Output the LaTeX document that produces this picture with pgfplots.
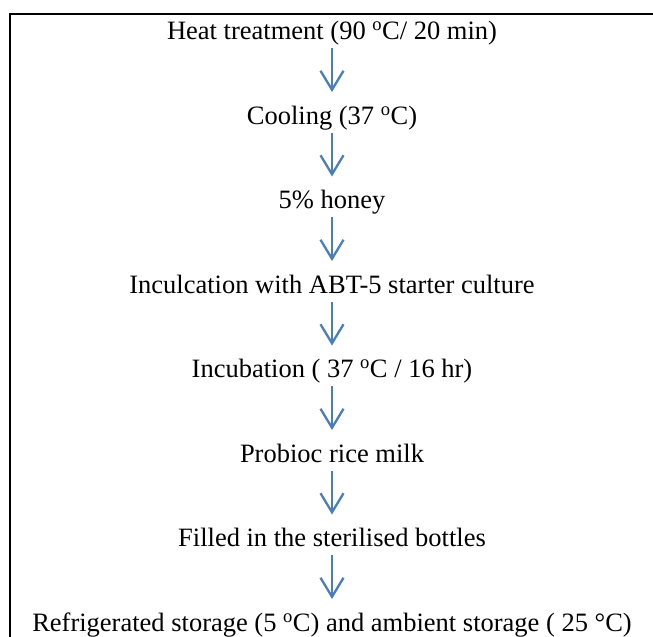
\documentclass[border=0pt]{standalone}
\usepackage{fontspec}
\setmainfont{Liberation Serif}
\usepackage{pgfplots}
\pgfplotsset{compat=1.18}
\usetikzlibrary{arrows.meta}
\definecolor{arrowblue}{HTML}{4A7EBB}
\begin{document}
\begin{tikzpicture}
\begin{axis}[
  width=653bp, height=637bp, scale only axis,
  xmin=0, xmax=653, ymin=0, ymax=637, y dir=reverse,
  axis lines=none, clip=true,
]
\addplot[draw=black, line width=2bp, no markers] coordinates {(10,700) (10,14) (700,14)};
\addplot[arrowblue, line width=2.3bp, no markers, -{Straight Barb[length=19bp,width=23bp]},
  quiver={u=0, v=\thisrow{v}}] table[x=x, y=y] {
x y v
332 48 44
332 132.5 44
332 217 44
332 301.5 44
332 386 44
332 470.5 44
332 555 44
};
\begin{scope}[every node/.style={anchor=base, inner sep=0pt, font=\fontsize{26.5bp}{30bp}\selectfont}]
\node at (axis cs:332,39.5) {Heat treatment (90 \textsuperscript{o}C/ 20 min)};
\node at (axis cs:332,124) {Cooling (37 \textsuperscript{o}C)};
\node at (axis cs:332,208.5) {5\% honey};
\node at (axis cs:332,293) {Inculcation with ABT-5 starter culture};
\node at (axis cs:332,377.5) {Incubation ( 37 \textsuperscript{o}C / 16 hr)};
\node at (axis cs:332,462) {Probioc rice milk};
\node at (axis cs:332,546.5) {Filled in the sterilised bottles};
\node at (axis cs:332,631) {Refrigerated storage (5 \textsuperscript{o}C) and ambient storage ( 25 °C)};
\end{scope}
\end{axis}
\pgfresetboundingbox
\path[use as bounding box] (current axis.south west) rectangle (current axis.north east);
\end{tikzpicture}
\end{document}
